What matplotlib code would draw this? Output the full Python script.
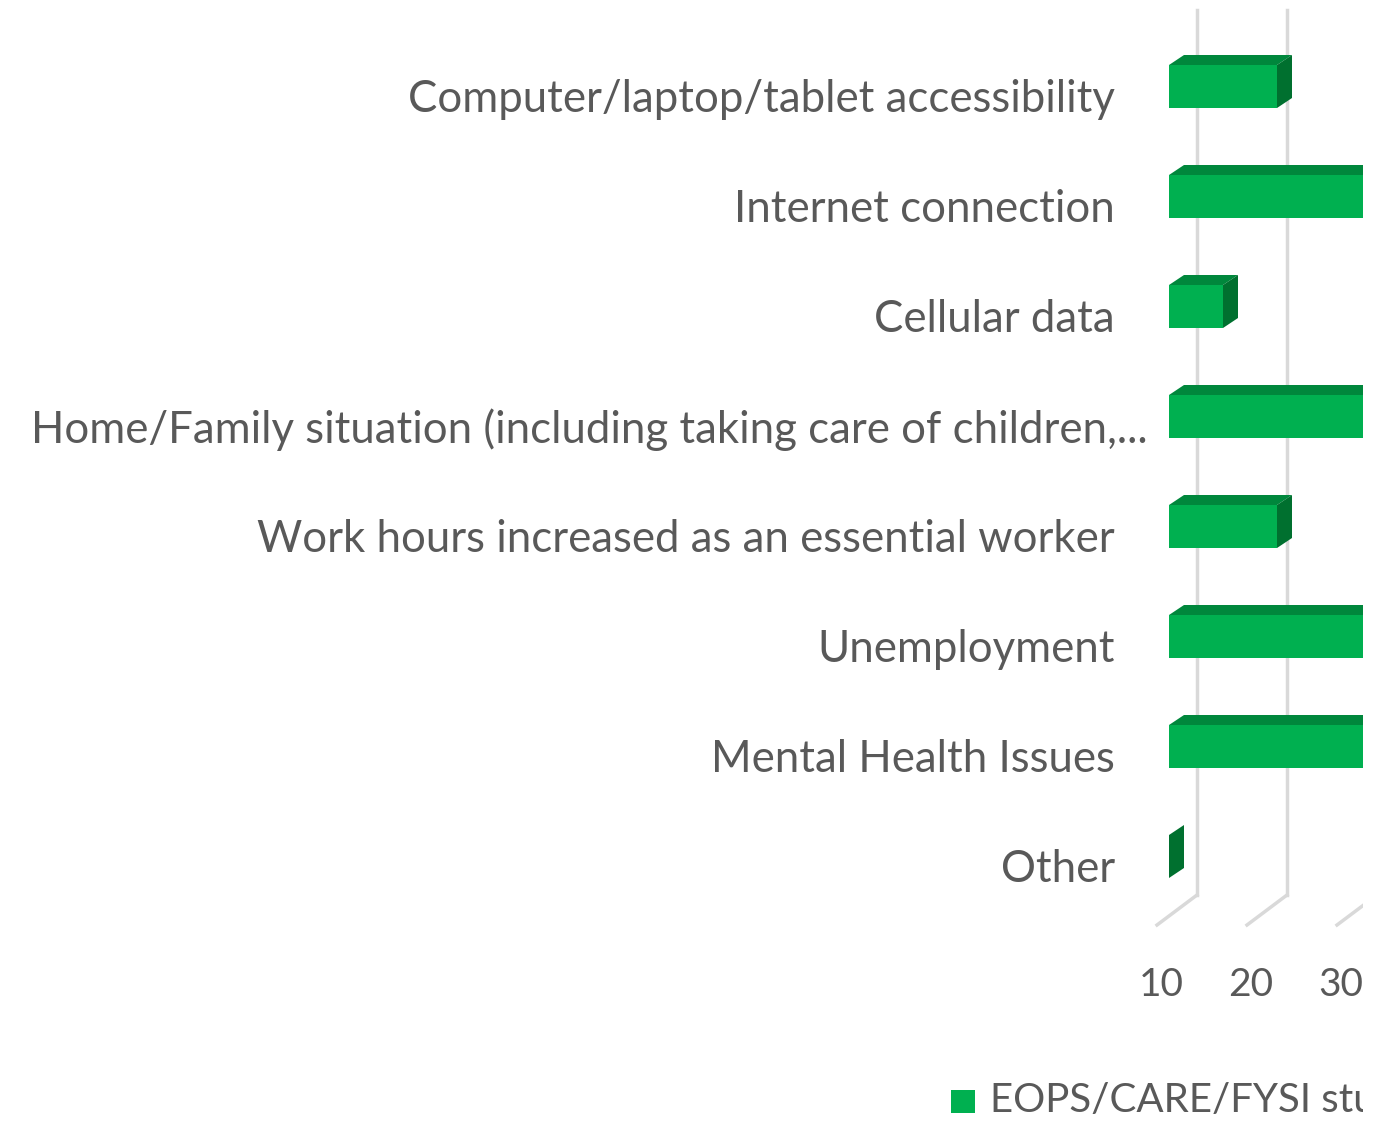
import matplotlib.pyplot as plt
from matplotlib.patches import Polygon, Rectangle

categories = [
    "Computer/laptop/tablet accessibility",
    "Internet connection",
    "Cellular data",
    "Home/Family situation (including taking care of children,...",
    "Work hours increased as an essential worker",
    "Unemployment",
    "Mental Health Issues",
    "Other",
]
values = [22, 38, 16, 41, 22, 36, 35, 10]
ticks = [10, 20, 30]
series_name = "EOPS/CARE/FYSI students"

W, H = 1385, 1123
PX, PY = 9.0, 110.0      # pixels per value unit / per category
X0, Y0 = 1157, 95.5      # pixel of value 10 / first category on front plane
RIGHT = 1363             # chart is cut off here
XMIN = 10

front_c, top_c, side_c = "#00B050", "#00873C", "#00702F"
grid_c, text_c = "#D9D9D9", "#595959"

plt.rcParams['font.family'] = ['Lato', 'DejaVu Sans']

fig = plt.figure(figsize=(W / 100, H / 100), dpi=100)
ax = fig.add_axes([0, 0, RIGHT / W, 1])
ax.set_xlim(XMIN - X0 / PX, XMIN + (RIGHT - X0) / PX)
ax.set_ylim((H - Y0) / PY, -Y0 / PY)
ax.axis('off')


def px(x):
    return x / PX


def py(y):
    return (y - Y0) / PY


# gridlines on back wall + floor diagonals
for t in ticks:
    ax.plot([t + px(40), t + px(40)], [py(10), py(895)], color=grid_c, lw=2.5, zorder=1)
    ax.plot([t, t + px(40)], [py(925), py(895)], color=grid_c, lw=2.5, zorder=1)
    ax.text(t + px(4), py(985), str(t), ha='center', va='center', fontsize=28,
            color=text_c, clip_on=True)

# 3d bars
fx, fy = px(12), -9 / PY
bx, by = px(15), -10 / PY
h = 21.5 / PY
for i, v in enumerate(values):
    yt, yb = i + fy - h, i + fy + h
    x1, x2 = XMIN + fx, v + fx
    if v > XMIN:
        ax.add_patch(Rectangle((x1, yt), x2 - x1, yb - yt, color=front_c, lw=0, zorder=3))
        ax.add_patch(Polygon([(x1, yt), (x2, yt), (x2 + bx, yt + by), (x1 + bx, yt + by)],
                             closed=True, color=top_c, lw=0, zorder=3))
    ax.add_patch(Polygon([(x2, yt), (x2 + bx, yt + by), (x2 + bx, yb + by), (x2, yb)],
                         closed=True, color=side_c, lw=0, zorder=3))

# category labels
for i, lab in enumerate(categories):
    xr = 1148 if lab.endswith("...") else 1115
    ax.text(XMIN + px(xr - X0), i + 4.5 / PY, lab, ha='right', va='center',
            fontsize=31.5, color=text_c, clip_on=True)

# legend (cut off at the right edge like the source)
ax.add_patch(Rectangle((XMIN + px(951 - X0), py(1090)), px(24), 23 / PY,
                       color=front_c, lw=0, clip_on=True))
ax.text(XMIN + px(990 - X0), py(1101), series_name, ha='left', va='center',
        fontsize=29, color=text_c, clip_on=True)

fig.savefig("out.png", dpi=100)
